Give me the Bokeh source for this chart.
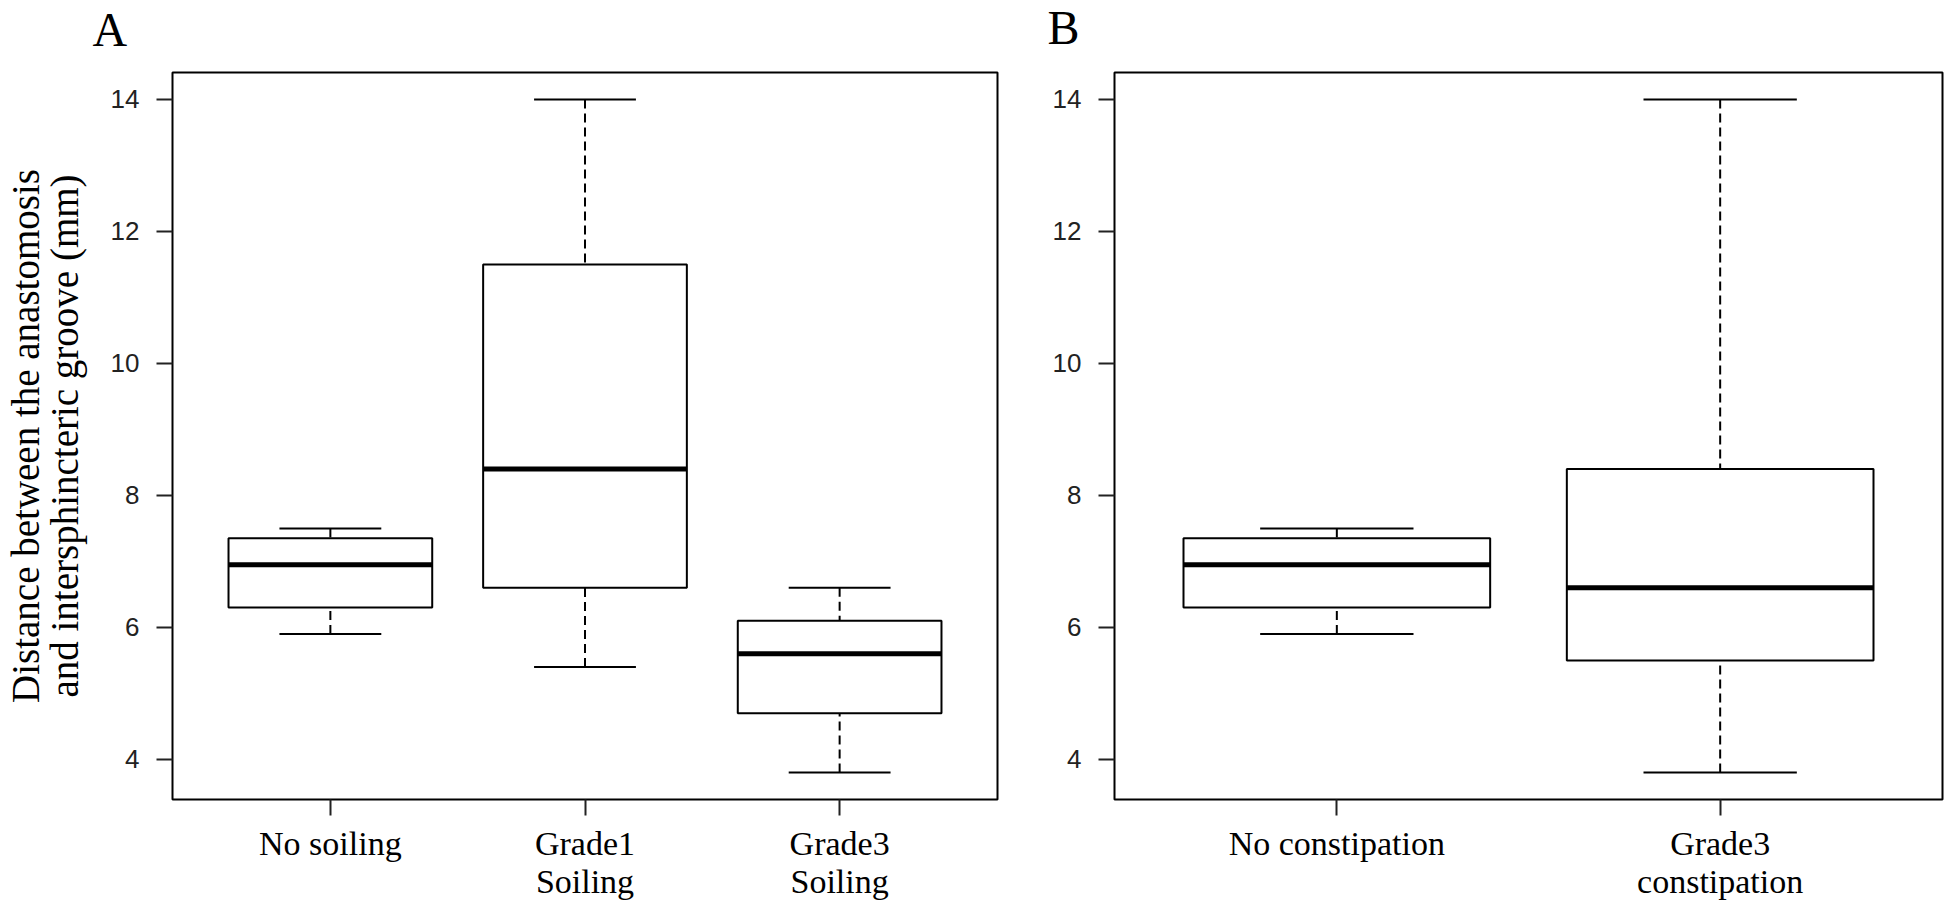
from bokeh.plotting import figure
from bokeh.models import Range1d, FixedTicker, Label
from bokeh.layouts import row
from bokeh.embed import file_html
from bokeh.resources import INLINE

# ---- data ----
a_groups = ["No soiling", "Grade1\nSoiling", "Grade3\nSoiling"]
a_low = [5.9, 5.4, 3.8]
a_q1 = [6.3, 6.6, 4.7]
a_med = [6.95, 8.4, 5.6]
a_q3 = [7.35, 11.5, 6.1]
a_high = [7.5, 14.0, 6.6]

b_groups = ["No constipation", "Grade3\nconstipation"]
b_low = [5.9, 3.8]
b_q1 = [6.3, 5.5]
b_med = [6.95, 6.6]
b_q3 = [7.35, 8.4]
b_high = [7.5, 14.0]

y_ticks = [4, 6, 8, 10, 12, 14]
y_label = "Distance between the anastomosis\nand intersphincteric groove (mm)"

SERIF = "Liberation Serif"
SANS = "Liberation Sans"
Y0, Y1 = 3.392, 14.408


def make_panel(groups, low, q1, med, q3, high, letter, width, height,
               border_left, border_right, border_top, border_bottom,
               letter_dx, letter_dy, ylabel=None):
    n = len(groups)
    xs = list(range(1, n + 1))
    x0, x1 = 0.5 - 0.04 * n, n + 0.5 + 0.04 * n
    p = figure(width=width, height=height, output_backend="svg",
               toolbar_location=None, tools="",
               x_range=Range1d(x0, x1), y_range=Range1d(Y0, Y1),
               min_border_left=border_left, min_border_right=border_right,
               min_border_top=border_top, min_border_bottom=border_bottom)
    p.xgrid.visible = False
    p.ygrid.visible = False
    p.outline_line_color = "black"
    p.outline_line_width = 2
    p.background_fill_color = "white"
    p.border_fill_color = "white"

    # panel letter in the panel above the frame (offsets from the frame's top-left)
    p.add_layout(Label(x=letter_dx, y=letter_dy, x_units="screen", y_units="screen",
                       text=letter, text_font=SERIF, text_font_size="48px",
                       text_color="black", text_baseline="alphabetic",
                       text_align="left"), "above")

    hw = 0.4
    cw = 0.2
    # whiskers (dashed), from whisker end to box
    p.segment(x0=xs, y0=high, x1=xs, y1=q3, line_color="black", line_width=2, line_dash="9 5")
    p.segment(x0=xs, y0=low, x1=xs, y1=q1, line_color="black", line_width=2, line_dash="9 5")
    # caps
    p.segment(x0=[x - cw for x in xs], y0=high, x1=[x + cw for x in xs], y1=high,
              line_color="black", line_width=2)
    p.segment(x0=[x - cw for x in xs], y0=low, x1=[x + cw for x in xs], y1=low,
              line_color="black", line_width=2)
    # boxes
    p.quad(left=[x - hw for x in xs], right=[x + hw for x in xs], bottom=q1, top=q3,
           fill_color="white", line_color="black", line_width=2)
    # medians
    p.segment(x0=[x - hw for x in xs], y0=med, x1=[x + hw for x in xs], y1=med,
              line_color="black", line_width=5, line_cap="butt")

    # x axis
    xa = p.xaxis[0]
    xa.ticker = FixedTicker(ticks=xs)
    xa.major_label_overrides = {x: g for x, g in zip(xs, groups)}
    xa.axis_line_color = None
    xa.major_tick_in = 0
    xa.major_tick_out = 16
    xa.major_tick_line_width = 2
    xa.major_tick_line_color = "#222222"
    xa.minor_tick_line_color = None
    xa.major_label_text_font = SERIF
    xa.major_label_text_font_size = "34px"
    xa.major_label_text_color = "black"
    xa.major_label_text_line_height = 1.05
    xa.major_label_standoff = 9

    # y axis
    ya = p.yaxis[0]
    ya.ticker = FixedTicker(ticks=y_ticks)
    ya.axis_line_color = None
    ya.major_tick_in = 0
    ya.major_tick_out = 16
    ya.major_tick_line_width = 2
    ya.major_tick_line_color = "#222222"
    ya.minor_tick_line_color = None
    ya.major_label_text_font = SANS
    ya.major_label_text_font_size = "26px"
    ya.major_label_text_color = "#222222"
    ya.major_label_standoff = 17
    if ylabel:
        ya.axis_label = ylabel
        ya.axis_label_text_font = SERIF
        ya.axis_label_text_font_size = "39px"
        ya.axis_label_text_font_style = "normal"
        ya.axis_label_text_color = "black"
        ya.axis_label_text_line_height = 0.9
        ya.axis_label_standoff = 22
    return p


pA = make_panel(a_groups, a_low, a_q1, a_med, a_q3, a_high, "A",
                width=1017, height=911, border_left=169, border_right=20,
                border_top=69, border_bottom=112, letter_dx=-80, letter_dy=43,
                ylabel=y_label)
pB = make_panel(b_groups, b_low, b_q1, b_med, b_q3, b_high, "B",
                width=927, height=911, border_left=97, border_right=2,
                border_top=72, border_bottom=110, letter_dx=-67, letter_dy=45)

layout = row(pA, pB)
open("out.html", "w").write(file_html(layout, INLINE))
